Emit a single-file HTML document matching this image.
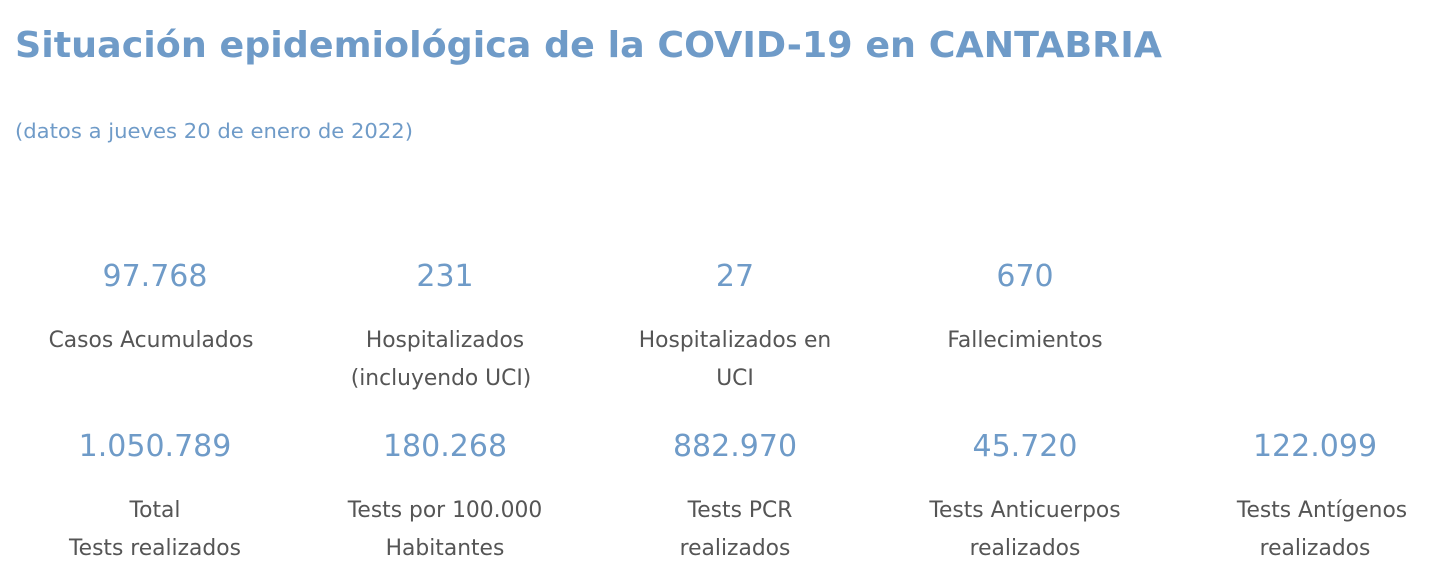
<!DOCTYPE html>
<html><head><meta charset="utf-8"><style>
html,body{margin:0;padding:0;background:#fff;width:1432px;height:576px;overflow:hidden}
svg{display:block}
.t{font-family:"DejaVu Sans","Liberation Sans",sans-serif}
.n{fill:#6f9bc8;font-size:30px;text-anchor:middle}
.l{fill:#555;font-size:21.8px;text-anchor:middle}
</style></head><body>
<svg width="1432" height="576" class="t">
<text x="15" y="57" font-size="36" font-weight="bold" fill="#6f9bc8" textLength="1147" lengthAdjust="spacingAndGlyphs">Situación epidemiológica de la COVID-19 en CANTABRIA</text>
<text x="15" y="138" font-size="20" fill="#6f9bc8" textLength="398" lengthAdjust="spacingAndGlyphs">(datos a jueves 20 de enero de 2022)</text>
<text class="n" x="155" y="286">97.768</text>
<text class="n" x="445" y="286">231</text>
<text class="n" x="735" y="286">27</text>
<text class="n" x="1025" y="286">670</text>
<text class="l" x="151" y="347">Casos Acumulados</text>
<text class="l" x="445" y="347">Hospitalizados</text>
<text class="l" x="441" y="385">(incluyendo UCI)</text>
<text class="l" x="735" y="347">Hospitalizados en</text>
<text class="l" x="735" y="385">UCI</text>
<text class="l" x="1025" y="347">Fallecimientos</text>
<text class="n" x="155" y="456">1.050.789</text>
<text class="n" x="445" y="456">180.268</text>
<text class="n" x="735" y="456">882.970</text>
<text class="n" x="1025" y="456">45.720</text>
<text class="n" x="1315" y="456">122.099</text>
<text class="l" x="155" y="517">Total</text>
<text class="l" x="155" y="555">Tests realizados</text>
<text class="l" x="445" y="517">Tests por 100.000</text>
<text class="l" x="445" y="555">Habitantes</text>
<text class="l" x="740" y="517">Tests PCR</text>
<text class="l" x="735" y="555">realizados</text>
<text class="l" x="1025" y="517">Tests Anticuerpos</text>
<text class="l" x="1025" y="555">realizados</text>
<text class="l" x="1322" y="517">Tests Antígenos</text>
<text class="l" x="1315" y="555">realizados</text>
</svg>
</body></html>
